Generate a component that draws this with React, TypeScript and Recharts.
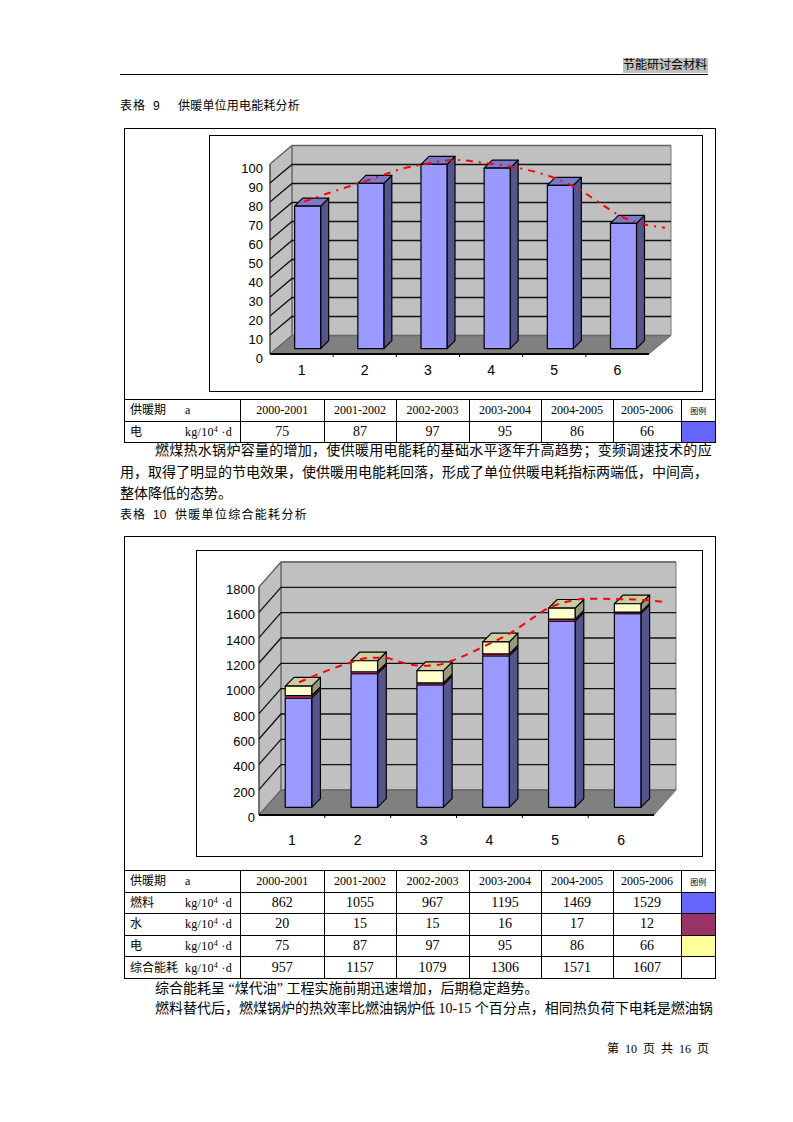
import { Bar, CartesianGrid, ComposedChart, Line, XAxis, YAxis } from "recharts";

const periods = ["2000-2001", "2001-2002", "2002-2003", "2003-2004", "2004-2005", "2005-2006"];
const categories = [1, 2, 3, 4, 5, 6];

const elecValues = [75, 87, 97, 95, 86, 66];
const fuelValues = [862, 1055, 967, 1195, 1469, 1529];
const waterValues = [20, 15, 15, 16, 17, 12];
const totalValues = [957, 1157, 1079, 1306, 1571, 1607];

const elecTicks = [0, 10, 20, 30, 40, 50, 60, 70, 80, 90, 100];
const totalTicks = [0, 200, 400, 600, 800, 1000, 1200, 1400, 1600, 1800];

const elecTrendX = [1.04, 1.42, 1.77, 2.19, 2.61, 2.93, 3.14, 3.44, 3.82, 4.14, 4.46, 4.83, 5.17, 5.43, 5.75, 6.04, 6.36, 6.75];
const elecTrendY = [80.2, 84.6, 88.4, 93, 97.7, 99.8, 101.2, 102.1, 100.9, 99.5, 97.7, 94.6, 90.4, 85.9, 78.8, 72.8, 68.8, 66.5];
const totalTrendX = [1.11, 1.63, 1.88, 2.19, 2.39, 2.69, 2.95, 3.2, 3.48, 3.96, 4.31, 4.69, 4.89, 5.12, 5.53, 5.93, 6.34, 6.64];
const totalTrendY = [1048, 1158, 1202, 1242, 1242, 1202, 1179, 1184, 1229, 1342, 1434, 1566, 1632, 1676, 1708, 1705, 1697, 1682];

const BLUE = { front: "#9999ff", side: "#55558c", top: "#7a7acc" };
const PINK = { front: "#cc3366", side: "#661a33", top: "#a32952" };
const CREAM = { front: "#ffffcc", side: "#99997a", top: "#cccca3" };

const CJK = '"Liberation Serif", "Noto Sans CJK SC", serif';
const AXIS_FONT = '"Liberation Sans", Arial, sans-serif';

function Box3D({ x, y, width, height, barW, colors, showTop, ox, oy, depth }: any) {
  // recharts squeezes the bar on a number axis, only its centre and height are used
  const l = x + width / 2 - barW / 2 + ox;
  const t = y - oy;
  const r = l + barW;
  const b = t + height;
  return (
    <g stroke="#000" strokeWidth={height < 4 ? 0.7 : 1.2} strokeLinejoin="round">
      <polygon points={`${r},${t} ${r + depth},${t - depth} ${r + depth},${b - depth} ${r},${b}`} fill={colors.side} />
      {showTop && (
        <polygon points={`${l},${t} ${r},${t} ${r + depth},${t - depth} ${l + depth},${t - depth}`} fill={colors.top} />
      )}
      <rect x={l} y={t} width={barW} height={height} fill={colors.front} />
    </g>
  );
}

function Chart3D({ box, plot, wall, barSize, shift, depth, yMax, yTicks, xMax, rows, series, trend, dash, fontSize, labelDy, xLabelDy, labelGap }: any) {
  const width = box.r - box.l;
  const height = box.b - box.t;
  const band = (plot.r - plot.l) / categories.length;
  // recharts' plot area also takes in the depth of the box, so the trend can run past the front plane
  const plotRight = plot.l + (xMax - 0.5) * band;
  const pxPerY = (plot.b - plot.t) / yTicks[yTicks.length - 1];
  const plotTop = plot.b - yMax * pxPerY;
  const axisW = 50;
  const axisH = 30;
  const margin = {
    top: plotTop - box.t,
    right: box.r - plotRight,
    bottom: box.b - plot.b - axisH,
    left: plot.l - box.l - axisW,
  };
  // front plane in the chart's own pixels
  const L = plot.l - box.l;
  const R = plot.r - box.l;
  const T = plot.t - box.t;
  const B = plot.b - box.t;
  const wallTop = T - wall.dy;
  const wallBottom = B - wall.dy;

  const gridLine = (p: any) => {
    const edge = p.y1 <= T + 0.5 || p.y1 >= B - 0.5;
    const aboveWall = p.y1 < T - 0.5;
    return (
      <g key={p.key}>
        {p.index === 0 && (
          <g>
            <polygon
              points={`${L + wall.dx},${wallTop} ${R + wall.dx},${wallTop} ${R + wall.dx},${wallBottom} ${L + wall.dx},${wallBottom}`}
              fill="#c0c0c0"
              stroke="#777"
            />
            <polygon
              points={`${L},${T} ${L + wall.dx},${wallTop} ${L + wall.dx},${wallBottom} ${L},${B}`}
              fill="#c0c0c0"
              stroke="#777"
            />
            <polygon
              points={`${L},${B} ${R},${B} ${R + wall.dx},${wallBottom} ${L + wall.dx},${wallBottom}`}
              fill="#808080"
            />
          </g>
        )}
        {!aboveWall && (
          <polyline
            points={`${L},${p.y1} ${L + wall.dx},${p.y1 - wall.dy} ${R + wall.dx},${p.y1 - wall.dy}`}
            fill="none"
            stroke={edge ? "#666" : "#111"}
            strokeWidth={1.3}
          />
        )}
        {p.index === 0 && (
          <g>
            <line x1={L} y1={T} x2={L} y2={B} stroke="#333" />
            <line x1={L + wall.dx} y1={wallTop} x2={L + wall.dx} y2={wallBottom} stroke="#777" strokeWidth={1.5} />
            <line x1={L} y1={B} x2={R} y2={B} stroke="#000" strokeWidth={2} />
            <line x1={R} y1={B} x2={R + wall.dx} y2={wallBottom} stroke="#777" />
          </g>
        )}
      </g>
    );
  };

  return (
    <div style={{ position: "absolute", left: box.l, top: box.t, width, height }}>
      <div style={{ position: "absolute", inset: 0, border: "1px solid #000", boxSizing: "border-box" }} />
      <ComposedChart width={width} height={height} data={rows} margin={margin}>
        <CartesianGrid vertical={false} horizontal={gridLine} />
        <XAxis
          type="number"
          dataKey="x"
          domain={[0.5, xMax]}
          ticks={categories}
          interval={0}
          height={axisH}
          axisLine={false}
          tickLine={false}
          tick={(p: any) => (
            <g>
              <text x={p.x} y={B + xLabelDy} textAnchor="middle" dominantBaseline="central" fontSize={fontSize + 1} fontFamily={AXIS_FONT} fill="#000">
                {p.payload.value}
              </text>
              {p.index < categories.length - 1 && (
                <line x1={p.x + band / 2} y1={B} x2={p.x + band / 2} y2={B + 3} stroke="#000" />
              )}
            </g>
          )}
        />
        <YAxis
          type="number"
          domain={[0, yMax]}
          ticks={yTicks}
          interval={0}
          width={axisW}
          axisLine={false}
          tickLine={false}
          tick={(p: any) => (
            <text x={L - labelGap} y={p.y + labelDy} textAnchor="end" dominantBaseline="central" fontSize={fontSize} fontFamily={AXIS_FONT} fill="#000">
              {p.payload.value}
            </text>
          )}
        />
        {series.map((s: any, i: number) => (
          <Bar
            key={s.key}
            dataKey={s.key}
            stackId="a"
            barSize={barSize}
            isAnimationActive={false}
            shape={(p: any) => (
              <Box3D {...p} barW={barSize} colors={s.colors} showTop={i === series.length - 1} ox={shift.x} oy={shift.y} depth={depth} />
            )}
          />
        ))}
        <Line
          data={trend}
          dataKey="trend"
          type="monotone"
          stroke="#ff0000"
          strokeWidth={2}
          strokeDasharray={dash}
          dot={false}
          activeDot={false}
          isAnimationActive={false}
        />
      </ComposedChart>
    </div>
  );
}

const tableCols = [116, 83.5, 72, 73, 72, 72, 68, 34.5];
const boxStyle = { border: "1px solid #000", padding: 0, textAlign: "center" as const, fontSize: 14, verticalAlign: "middle" as const };

function Unit() {
  return (
    <span style={{ position: "absolute", left: 60, top: -2, lineHeight: "20px", fontSize: 12, letterSpacing: 0.3, whiteSpace: "nowrap" }}>
      kg/10<span style={{ fontSize: 8, verticalAlign: "4px" }}>4</span>&nbsp;·d
    </span>
  );
}

function DataTable({ left, top, rowH, rows }: any) {
  return (
    <table
      style={{ position: "absolute", left, top, width: 592, borderCollapse: "collapse", tableLayout: "fixed", fontFamily: CJK, color: "#000" }}
    >
      <colgroup>
        {tableCols.map((w, i) => (
          <col key={i} style={{ width: w }} />
        ))}
      </colgroup>
      <tbody>
        <tr style={{ height: rowH }}>
          <td style={boxStyle}>
            <div style={{ position: "relative", height: 20, textAlign: "left" }}>
              <span style={{ position: "absolute", left: 5, top: 0, lineHeight: "20px", fontSize: 12 }}>供暖期</span>
              <span style={{ position: "absolute", left: 60, top: 0, lineHeight: "20px", fontSize: 12 }}>a</span>
            </div>
          </td>
          {periods.map((p) => (
            <td key={p} style={{ ...boxStyle, fontSize: 12 }}>{p}</td>
          ))}
          <td style={{ ...boxStyle, fontSize: 8 }}>图例</td>
        </tr>
        {rows.map((r: any) => (
          <tr key={r.label} style={{ height: rowH }}>
            <td style={boxStyle}>
              <div style={{ position: "relative", height: 20, textAlign: "left" }}>
                <span style={{ position: "absolute", left: 5, top: 0, lineHeight: "20px", fontSize: 12 }}>{r.label}</span>
                <Unit />
              </div>
            </td>
            {r.values.map((v: number, i: number) => (
              <td key={i} style={boxStyle}>{v}</td>
            ))}
            <td style={{ ...boxStyle, background: r.swatch }} />
          </tr>
        ))}
      </tbody>
    </table>
  );
}

function TextLine({ x, y, size = 14, spacing = 0, words = 0, font = CJK, children }: any) {
  return (
    <div
      style={{
        position: "absolute",
        left: x,
        top: y - 10,
        lineHeight: "20px",
        fontSize: size,
        letterSpacing: spacing,
        wordSpacing: words,
        whiteSpace: "nowrap",
        fontFamily: font,
        color: "#000",
      }}
    >
      {children}
    </div>
  );
}

const elecRows = categories.map((x, i) => ({ x, elec: elecValues[i] }));
const totalRows = categories.map((x, i) => ({ x, fuel: fuelValues[i], water: waterValues[i], elec: elecValues[i] }));
const elecTrend = elecTrendX.map((x, i) => ({ x, trend: elecTrendY[i] }));
const totalTrend = totalTrendX.map((x, i) => ({ x, trend: totalTrendY[i] }));

export default function App() {
  return (
    <div style={{ position: "absolute", left: 0, top: 0, width: 793, height: 1122, background: "#fff" }}>
      <div style={{ position: "absolute", left: 623, top: 58, width: 85, height: 15, background: "#c0c0c0" }} />
      <TextLine x={623} y={65} size={12}>节能研讨会材料</TextLine>
      <div style={{ position: "absolute", left: 120, top: 74, width: 588, height: 1, background: "#000" }} />

      <TextLine x={120} y={106} size={12} spacing={1}>表格</TextLine>
      <TextLine x={153} y={106} size={12} font={AXIS_FONT}>9</TextLine>
      <TextLine x={178} y={106} size={12} spacing={0.2}>供暖单位用电能耗分析</TextLine>
      <div style={{ position: "absolute", left: 124, top: 128, width: 592, height: 272, border: "1px solid #000", boxSizing: "border-box" }} />
      <Chart3D
        box={{ l: 209, t: 135, r: 703, b: 392 }}
        plot={{ l: 270, t: 164, r: 649, b: 354 }}
        wall={{ dx: 22, dy: 18.5 }}
        barSize={26}
        shift={{ x: 6.2, y: 5.3 }}
        depth={8}
        yMax={110}
        yTicks={elecTicks}
        xMax={6.86}
        rows={elecRows}
        series={[{ key: "elec", colors: BLUE }]}
        trend={elecTrend}
        dash="7 6 2 6"
        fontSize={13}
        labelDy={4.5}
        xLabelDy={16}
        labelGap={7}
      />
      <DataTable left={124} top={399} rowH={21.5} rows={[{ label: "电", values: elecValues, swatch: "#6666ff" }]} />

      <TextLine x={155} y={451} spacing={0.28}>燃煤热水锅炉容量的增加，使供暖用电能耗的基础水平逐年升高趋势；变频调速技术的应</TextLine>
      <TextLine x={120} y={473}>用，取得了明显的节电效果，使供暖用电能耗回落，形成了单位供暖电耗指标两端低，中间高，</TextLine>
      <TextLine x={120} y={494}>整体降低的态势。</TextLine>
      <TextLine x={120} y={515} size={12} spacing={1}>表格</TextLine>
      <TextLine x={153} y={515} size={12} font={AXIS_FONT}>10</TextLine>
      <TextLine x={175} y={515} size={12} spacing={1.3}>供暖单位综合能耗分析</TextLine>

      <div style={{ position: "absolute", left: 124, top: 536, width: 592, height: 335, border: "1px solid #000", boxSizing: "border-box" }} />
      <Chart3D
        box={{ l: 196, t: 550, r: 703, b: 857 }}
        plot={{ l: 259, t: 587, r: 654, b: 815 }}
        wall={{ dx: 22, dy: 25 }}
        barSize={26.5}
        shift={{ x: 6.7, y: 7.7 }}
        depth={8.7}
        yMax={2000}
        yTicks={totalTicks}
        xMax={6.85}
        rows={totalRows}
        series={[
          { key: "fuel", colors: BLUE },
          { key: "water", colors: PINK },
          { key: "elec", colors: CREAM },
        ]}
        trend={totalTrend}
        dash="7 6"
        fontSize={13}
        labelDy={2.5}
        xLabelDy={25}
        labelGap={4}
      />
      <DataTable
        left={124}
        top={870}
        rowH={21.6}
        rows={[
          { label: "燃料", values: fuelValues, swatch: "#6666ff" },
          { label: "水", values: waterValues, swatch: "#993366" },
          { label: "电", values: elecValues, swatch: "#ffff99" },
          { label: "综合能耗", values: totalValues, swatch: "#fff" },
        ]}
      />

      <TextLine x={155} y={989}>综合能耗呈 “煤代油” 工程实施前期迅速增加，后期稳定趋势。</TextLine>
      <TextLine x={155} y={1009}>燃料替代后，燃煤锅炉的热效率比燃油锅炉低 10-15 个百分点，相同热负荷下电耗是燃油锅</TextLine>
      <TextLine x={607} y={1049} size={12} words={3}>第 10 页 共 16 页</TextLine>
    </div>
  );
}
